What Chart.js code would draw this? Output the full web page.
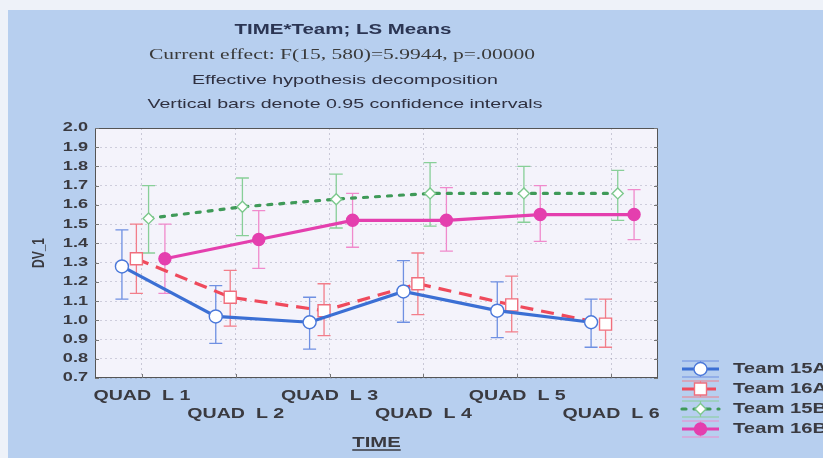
<!DOCTYPE html>
<html>
<head>
<meta charset="utf-8">
<title>TIME*Team; LS Means</title>
<script src="https://cdn.jsdelivr.net/npm/chart.js@4/dist/chart.umd.min.js"></script>
<style>
  html, body { margin: 0; padding: 0; background: #eef2f9; }
  #wrap { width: 823px; height: 458px; }
  canvas { display: block; }
</style>
</head>
<body>
<div id="wrap"><canvas id="chart" width="823" height="458"></canvas></div>
<script>
// ---- data -------------------------------------------------------------
const timeLabels = ['QUAD  L 1', 'QUAD  L 2', 'QUAD  L 3', 'QUAD  L 4', 'QUAD  L 5', 'QUAD  L 6'];
const teamNames  = ['Team 15A', 'Team 16A', 'Team 15B', 'Team 16B'];

// LS means and 0.95 confidence limits per team
const mean15A = [1.28, 1.02, 0.99, 1.15, 1.05, 0.99];
const low15A  = [1.11, 0.88, 0.85, 0.99, 0.91, 0.86];
const high15A = [1.47, 1.18, 1.12, 1.31, 1.20, 1.11];

const mean16A = [1.32, 1.12, 1.05, 1.19, 1.08, 0.98];
const low16A  = [1.14, 0.97, 0.92, 1.03, 0.94, 0.86];
const high16A = [1.50, 1.26, 1.19, 1.35, 1.23, 1.11];

const mean15B = [1.53, 1.59, 1.63, 1.66, 1.66, 1.66];
const low15B  = [1.35, 1.44, 1.48, 1.49, 1.51, 1.52];
const high15B = [1.70, 1.74, 1.76, 1.82, 1.80, 1.78];

const mean16B = [1.32, 1.42, 1.52, 1.52, 1.55, 1.55];
const low16B  = [1.14, 1.27, 1.38, 1.36, 1.41, 1.42];
const high16B = [1.50, 1.57, 1.66, 1.69, 1.70, 1.68];

const yMin = 0.7, yMax = 2.0, yStep = 0.1;

const titleLines = [
  'TIME*Team; LS Means',
  'Current effect: F(15, 580)=5.9944, p=.00000',
  'Effective hypothesis decomposition',
  'Vertical bars denote 0.95 confidence intervals'
];
const yTitle = 'DV_1';
const xTitle = 'TIME';

// ---- series styling ---------------------------------------------------
// horizontal nudge of each team inside a time category (category units)
const teamShift = [-0.213, -0.059, 0.071, 0.245];

const styles = [
  { line: '#3b6fd4', dash: [],      cap: 'butt',  point: 'circle',  radius: 6.5, fill: '#ffffff', edge: '#4a78da', err: '#6f90e2' },
  { line: '#ef4a5c', dash: [13, 8], cap: 'butt',  point: 'rect',    radius: 8.5, fill: '#ffffff', edge: '#f06e7c', err: '#f27e8a' },
  { line: '#3f9a58', dash: [4, 8],  cap: 'round', point: 'rectRot', radius: 5.5, fill: '#ffffff', edge: '#7cc88c', err: '#88cf98' },
  { line: '#e43fae', dash: [],      cap: 'butt',  point: 'circle',  radius: 6,   fill: '#e43fae', edge: '#e43fae', err: '#f08acc' }
];

const means = [mean15A, mean16A, mean15B, mean16B];
const lows  = [low15A,  low16A,  low15B,  low16B];
const highs = [high15A, high16A, high15B, high16B];

const datasets = teamNames.map((name, k) => ({
  label: name,
  data: means[k].map((v, i) => ({ x: i + 1 + teamShift[k], y: v })),
  ciLow: lows[k],
  ciHigh: highs[k],
  errColor: styles[k].err,
  borderColor: styles[k].line,
  borderWidth: 3.2,
  borderDash: styles[k].dash,
  borderCapStyle: styles[k].cap,
  pointStyle: styles[k].point,
  pointRadius: styles[k].radius,
  pointBackgroundColor: styles[k].fill,
  pointBorderColor: styles[k].edge,
  pointBorderWidth: 1.4,
  fill: false,
  tension: 0,
  order: k
}));

// ---- text helper: wide, horizontally stretched lettering ---------------
const TEXT_SX = 1.4;
function wideText(ctx, text, x, y, font, color, align, sx, targetWidth) {
  ctx.save();
  ctx.font = font;
  ctx.fillStyle = color;
  ctx.textBaseline = 'middle';
  ctx.textAlign = 'left';
  const natural = ctx.measureText(text).width;
  const k = targetWidth ? targetWidth / natural : sx;
  const w = natural * k;
  const x0 = align === 'center' ? x - w / 2 : align === 'right' ? x - w : x;
  ctx.translate(x0, y);
  ctx.scale(k, 1);
  ctx.fillText(text, 0, 0);
  ctx.restore();
  return { left: x0, width: w };
}

// ---- plugins ----------------------------------------------------------
const backdrop = {
  id: 'backdrop',
  beforeDraw(chart) {
    const { ctx, chartArea: a, width, height } = chart;
    ctx.save();
    ctx.fillStyle = '#eef2f9';
    ctx.fillRect(0, 0, width, height);
    ctx.fillStyle = '#b7cfef';
    ctx.fillRect(8, 10, width - 8, height - 10);
    ctx.fillStyle = '#f4f3fb';
    ctx.fillRect(a.left, a.top, a.right - a.left, a.bottom - a.top);
    ctx.restore();
  }
};

const errorBars = {
  id: 'errorBars',
  beforeDatasetsDraw(chart) {
    const { ctx } = chart;
    const ys = chart.scales.y;
    ctx.save();
    chart.data.datasets.forEach((ds, k) => {
      const meta = chart.getDatasetMeta(k);
      ctx.strokeStyle = ds.errColor;
      ctx.lineWidth = 1.3;
      meta.data.forEach((pt, i) => {
        const yl = ys.getPixelForValue(ds.ciLow[i]);
        const yh = ys.getPixelForValue(ds.ciHigh[i]);
        ctx.beginPath();
        ctx.moveTo(pt.x, yl); ctx.lineTo(pt.x, yh);
        ctx.moveTo(pt.x - 6.5, yl); ctx.lineTo(pt.x + 6.5, yl);
        ctx.moveTo(pt.x - 6.5, yh); ctx.lineTo(pt.x + 6.5, yh);
        ctx.stroke();
      });
    });
    ctx.restore();
  }
};

const frameAndText = {
  id: 'frameAndText',
  afterDraw(chart) {
    const { ctx, chartArea: a } = chart;
    const xs = chart.scales.x, ys = chart.scales.y;
    ctx.save();

    // plot frame and inward tick marks
    ctx.strokeStyle = '#555';
    ctx.lineWidth = 1;
    ctx.strokeRect(a.left + 0.5, a.top + 0.5, a.right - a.left - 1, a.bottom - a.top - 1);
    ctx.strokeStyle = '#777';
    ctx.beginPath();
    ys.ticks.forEach(t => {
      const y = Math.round(ys.getPixelForValue(t.value)) + 0.5;
      ctx.moveTo(a.left, y); ctx.lineTo(a.left + 4, y);
      ctx.moveTo(a.right - 4, y); ctx.lineTo(a.right, y);
    });
    xs.ticks.forEach(t => {
      const x = Math.round(xs.getPixelForValue(t.value)) + 0.5;
      ctx.moveTo(x, a.bottom); ctx.lineTo(x, a.bottom - 4);
    });
    ctx.stroke();

    const lab = '#3a3a40';
    const bold14 = 'bold 14px "Liberation Sans", Arial, sans-serif';

    // y tick labels
    ys.ticks.forEach(t => {
      wideText(ctx, t.value.toFixed(1), a.left - 7, ys.getPixelForValue(t.value),
        'bold 12.5px "Liberation Sans", Arial, sans-serif', lab, 'right', 1.45);
    });

    // x category labels, staggered on two rows
    xs.ticks.forEach((t, i) => {
      const row = i % 2 === 0 ? a.bottom + 18 : a.bottom + 36;
      wideText(ctx, timeLabels[t.value - 1], xs.getPixelForValue(t.value), row, bold14, lab, 'center', TEXT_SX);
    });

    // axis titles
    const cx = (a.left + a.right) / 2;
    const tt = wideText(ctx, xTitle, cx, a.bottom + 65, bold14, lab, 'center', 1.45);
    ctx.strokeStyle = lab;
    ctx.lineWidth = 1.5;
    ctx.beginPath();
    ctx.moveTo(tt.left, a.bottom + 72); ctx.lineTo(tt.left + tt.width, a.bottom + 72);
    ctx.stroke();

    ctx.save();
    ctx.translate(40, (a.top + a.bottom) / 2);
    ctx.rotate(-Math.PI / 2);
    ctx.font = 'bold 12px "Liberation Sans", Arial, sans-serif';
    ctx.fillStyle = lab;
    ctx.textAlign = 'center';
    ctx.textBaseline = 'middle';
    ctx.scale(1, 1.3);
    ctx.fillText(yTitle, 0, 0);
    ctx.restore();

    // chart titles
    wideText(ctx, titleLines[0], 343, 30, 'bold 14px "Liberation Sans", Arial, sans-serif', '#2b3553', 'center', 0, 217);
    wideText(ctx, titleLines[1], 342, 55, '15px "Liberation Serif", "Times New Roman", serif', '#3a3a3a', 'center', 0, 386);
    wideText(ctx, titleLines[2], 345, 80, '13px "Liberation Sans", Arial, sans-serif', '#2f3040', 'center', 0, 306);
    wideText(ctx, titleLines[3], 345, 104, '13px "Liberation Sans", Arial, sans-serif', '#2f3040', 'center', 0, 395);

    // legend
    chart.data.datasets.forEach((ds, k) => {
      const y = 369 + k * 20;
      const x0 = 682, x1 = 719, xm = 700.5;
      ctx.strokeStyle = ds.errColor;
      ctx.lineWidth = 1.2;
      ctx.beginPath();
      ctx.moveTo(x0, y - 8); ctx.lineTo(x1, y - 8);
      ctx.moveTo(x0, y + 8); ctx.lineTo(x1, y + 8);
      ctx.moveTo(xm, y - 8); ctx.lineTo(xm, y + 8);
      ctx.stroke();
      ctx.save();
      ctx.strokeStyle = ds.borderColor;
      ctx.lineWidth = 3.2;
      ctx.setLineDash(ds.borderDash);
      ctx.lineCap = ds.borderCapStyle;
      ctx.beginPath();
      ctx.moveTo(x0, y); ctx.lineTo(x1, y);
      ctx.stroke();
      ctx.restore();
      ctx.fillStyle = ds.pointBackgroundColor;
      ctx.strokeStyle = ds.pointBorderColor;
      ctx.lineWidth = 1.4;
      Chart.helpers.drawPoint(ctx, { pointStyle: ds.pointStyle, radius: ds.pointRadius, borderWidth: 1.4, rotation: 0 }, xm, y);
      wideText(ctx, ds.label, 733, y, 'bold 15px "Liberation Sans", Arial, sans-serif', '#3a3a40', 'left', 1.35);
    });

    ctx.restore();
  }
};

// ---- chart ------------------------------------------------------------
new Chart(document.getElementById('chart'), {
  type: 'line',
  data: { datasets },
  options: {
    responsive: false,
    animation: false,
    devicePixelRatio: 1,
    layout: { padding: { top: 128, right: 165, left: 0, bottom: 0 } },
    plugins: { legend: { display: false }, tooltip: { enabled: false }, title: { display: false } },
    scales: {
      x: {
        type: 'linear',
        min: 0.5,
        max: timeLabels.length + 0.5,
        afterBuildTicks: s => { s.ticks = timeLabels.map((_, i) => ({ value: i + 1 })); },
        afterFit: s => { s.height = 80; },
        ticks: { display: false },
        grid: { color: 'rgba(120,120,150,0.35)', drawTicks: false, lineWidth: 1 },
        border: { display: false, dash: [2, 3] }
      },
      y: {
        min: yMin,
        max: yMax,
        afterFit: s => { s.width = 95; },
        ticks: { display: false, stepSize: yStep },
        grid: { color: 'rgba(120,120,150,0.3)', drawTicks: false, lineWidth: 1 },
        border: { display: false, dash: [2, 3] }
      }
    }
  },
  plugins: [backdrop, errorBars, frameAndText]
});
</script>
</body>
</html>
